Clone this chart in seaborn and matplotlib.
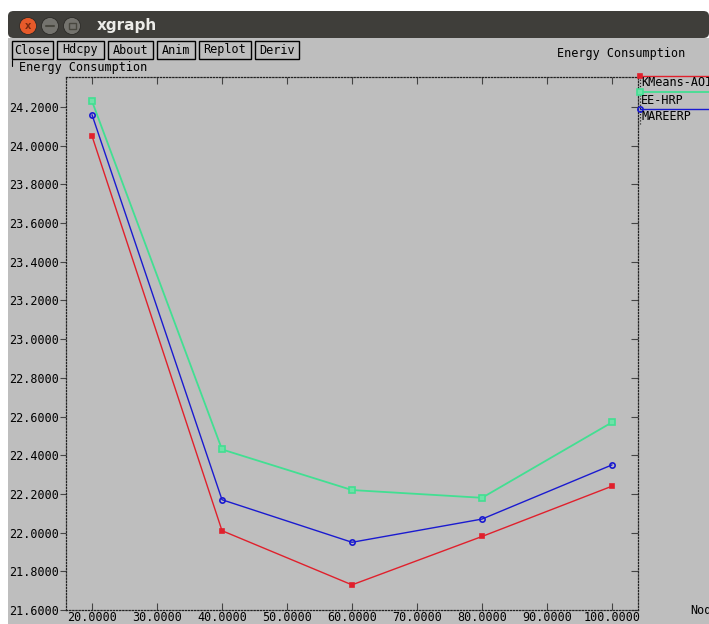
import matplotlib
matplotlib.use("Agg")
import matplotlib.pyplot as plt
from matplotlib.patches import Rectangle, FancyBboxPatch, Circle
from matplotlib.lines import Line2D
from matplotlib.transforms import IdentityTransform
import pandas as pd
import seaborn as sns

# ---- data ----
nodes = [20, 40, 60, 80, 100]
kmeans_aoi = [24.05, 22.01, 21.73, 21.98, 22.24]
ee_hrp = [24.23, 22.43, 22.22, 22.18, 22.57]
mareerp = [24.16, 22.17, 21.95, 22.07, 22.35]
series_names = ["KMeans-AOI", "EE-HRP", "MAREERP"]
x_ticks = [20, 30, 40, 50, 60, 70, 80, 90, 100]
y_ticks = [21.6, 21.8, 22.0, 22.2, 22.4, 22.6, 22.8, 23.0, 23.2, 23.4,
           23.6, 23.8, 24.0, 24.2]
buttons = ["Close", "Hdcpy", "About", "Anim", "Replot", "Deriv"]

df = pd.DataFrame({
    "Nodes": nodes * 3,
    "Energy": kmeans_aoi + ee_hrp + mareerp,
    "Series": [s for s in series_names for _ in nodes],
})

sns.set_theme(style="white")
plt.rcParams["font.family"] = ["DejaVu Sans Mono"]

W, H = 709, 624
fig = plt.figure(figsize=(W / 100, H / 100), dpi=100)
fig.patch.set_facecolor("white")

GRAY = "#bebebe"
MONO = 8.5
PIX = IdentityTransform()


def px(x, y):
    """pixel (top-left origin) -> figure fraction"""
    return x / W, 1 - y / H


# window body
fig.add_artist(Rectangle(px(8, H), (W - 8) / W, (H - 38) / H,
                         transform=fig.transFigure, facecolor=GRAY,
                         edgecolor="none", zorder=0))
# title bar
fig.add_artist(FancyBboxPatch(px(8, 38), (W - 8) / W, 27 / H,
                              boxstyle="round,pad=0,rounding_size=0.008",
                              transform=fig.transFigure, facecolor="#3f3e3a",
                              edgecolor="none", zorder=1))
for cx, col in [(28, "#e65a2a"), (50, "#74736e"), (72, "#74736e")]:
    fig.add_artist(Circle((cx, H - 26), 8.5, transform=PIX,
                          facecolor=col, edgecolor="#2c2b28", lw=0.6, zorder=2))
fig.text(*px(28, 26), "x", ha="center", va="center", color="#7a2a10",
         fontsize=7, fontweight="bold", family="DejaVu Sans", zorder=3)
fig.add_artist(Line2D([46, 54], [H - 26, H - 26], transform=PIX,
                      color="#48473f", lw=1.5, zorder=3))
fig.add_artist(Rectangle((68.5, H - 29), 7, 6, transform=PIX,
                         facecolor="none", edgecolor="#48473f", lw=1.0, zorder=3))
fig.text(*px(97, 25.5), "xgraph", ha="left", va="center", color="#ecece9",
         fontsize=11, fontweight="bold", family="DejaVu Sans", zorder=3)

# buttons (pixel edges of each box)
button_edges = [(12, 53), (57, 104), (108, 153), (157, 195), (199, 251),
                (255, 299)]
for label, (x0, x1) in zip(buttons, button_edges):
    fig.add_artist(Rectangle(px(x0, 59), (x1 - x0) / W, 18 / H,
                             transform=fig.transFigure, facecolor=GRAY,
                             edgecolor="black", lw=1.0, zorder=2))
    fig.text(*px((x0 + x1) / 2, 50), label, ha="center", va="center",
             fontsize=MONO, color="black", zorder=3)

# titles
fig.text(*px(557, 54), "Energy Consumption", ha="left", va="center",
         fontsize=MONO, color="black")
fig.text(*px(19, 68), "Energy Consumption", ha="left", va="center",
         fontsize=MONO, color="black")
fig.add_artist(Line2D([12 / W, 12 / W], [1 - 60 / H, 1 - 66 / H],
                      transform=fig.transFigure, color="black", lw=0.8))
fig.text(*px(690, 610), "Nodes", ha="left", va="center",
         fontsize=MONO, color="black")

# ---- plot area ----
ax = fig.add_axes([66 / W, 1 - 610 / H, 572 / W, 533 / H])
ax.set_facecolor(GRAY)

styles = {
    "KMeans-AOI": dict(color="#e0202c", marker="s", markersize=2.2, lw=1.0,
                       mfc="#e0202c", mec="#e0202c"),
    "EE-HRP": dict(color="#42df92", marker="s", markersize=4.2, lw=1.3,
                   mfc="#6fe2a8", mec="#42df92"),
    "MAREERP": dict(color="#1a1ad0", marker="o", markersize=3.8, lw=1.0,
                    mfc="none", mec="#1a1ad0"),
}
for name in series_names:
    st = styles[name]
    sns.lineplot(data=df[df["Series"] == name], x="Nodes", y="Energy", ax=ax,
                 color=st["color"], marker=st["marker"],
                 markersize=st["markersize"], linewidth=st["lw"],
                 markerfacecolor=st["mfc"], markeredgecolor=st["mec"],
                 markeredgewidth=1.2, legend=False, errorbar=None)

ax.set_xlim(16.0, 104.0)
ax.set_ylim(21.6, 24.355)
ax.set_xticks(x_ticks)
ax.set_xticklabels([f"{v:.4f}" for v in x_ticks], fontsize=MONO)
ax.set_yticks(y_ticks)
ax.set_yticklabels([f"{v:.4f}" for v in y_ticks], fontsize=MONO)
ax.set_xlabel("")
ax.set_ylabel("")
ax.tick_params(axis="x", which="both", direction="in", length=5, width=0.8,
               color="#444444", top=True, bottom=True, pad=0.5,
               labelcolor="black")
ax.tick_params(axis="y", which="both", direction="out", length=4, width=0.8,
               color="#444444", left=True, right=False, pad=1,
               labelcolor="black")
sec = ax.secondary_yaxis("right")
sec.set_yticks(y_ticks)
sec.tick_params(direction="in", length=5, width=0.8, color="#444444",
                labelright=False)
sec.spines["right"].set_visible(False)
for s in ax.spines.values():
    s.set_linestyle((0, (1, 1.5)))
    s.set_color("#222222")
    s.set_linewidth(0.9)

# legend at right edge, lines run off the window
legend_rows = [(76, 83), (92, 100), (109, 116)]
for name, (ly, ty) in zip(series_names, legend_rows):
    st = styles[name]
    fig.add_artist(Line2D([640 / W, 1.0], [1 - ly / H, 1 - ly / H],
                          transform=fig.transFigure, color=st["color"],
                          lw=st["lw"], zorder=5))
    fig.add_artist(Line2D([640 / W], [1 - ly / H], transform=fig.transFigure,
                          marker=st["marker"], markersize=st["markersize"],
                          mfc=st["mfc"], mec=st["mec"], mew=1.2, zorder=6))
    fig.text(641 / W, 1 - ty / H, name, ha="left", va="center",
             fontsize=MONO, color="black", zorder=6)
fig.add_artist(Line2D([640 / W, 640 / W], [1 - 76 / H, 1 - 124 / H],
                      transform=fig.transFigure, color="#222222", lw=0.9,
                      ls=(0, (1, 1.5)), zorder=4))

fig.savefig("out.png", dpi=100, facecolor=fig.get_facecolor())
